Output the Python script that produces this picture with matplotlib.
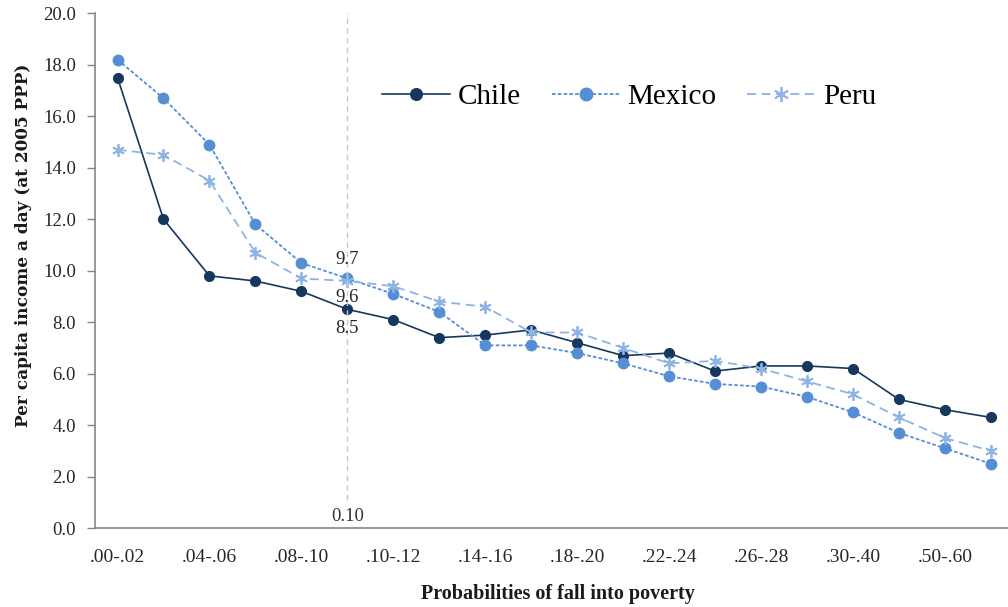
import matplotlib
matplotlib.use("Agg")
import matplotlib.pyplot as plt

# probability-of-falling-into-poverty bins (only every other one is labelled)
categories = [".00-.02", ".02-.04", ".04-.06", ".06-.08", ".08-.10", ".10",
              ".10-.12", ".12-.14", ".14-.16", ".16-.18", ".18-.20", ".20-.22",
              ".22-.24", ".24-.26", ".26-.28", ".28-.30", ".30-.40", ".40-.50",
              ".50-.60", ".60-.70"]

chile = [17.5, 12.0, 9.8, 9.6, 9.2, 8.5, 8.1, 7.4, 7.5, 7.7, 7.2, 6.7,
         6.8, 6.1, 6.3, 6.3, 6.2, 5.0, 4.6, 4.3]
mexico = [18.2, 16.7, 14.9, 11.8, 10.3, 9.7, 9.1, 8.4, 7.1, 7.1, 6.8, 6.4,
          5.9, 5.6, 5.5, 5.1, 4.5, 3.7, 3.1, 2.5]
peru = [14.7, 14.5, 13.5, 10.7, 9.7, 9.6, 9.4, 8.8, 8.6, 7.6, 7.6, 7.0,
        6.4, 6.5, 6.2, 5.7, 5.2, 4.3, 3.5, 3.0]

cutoff_idx = 5
cutoff_label = "0.10"

C_CHILE = "#17375E"
C_MEX = "#558ED5"
C_PERU = "#8EB4E3"
TXT = "#262626"

plt.rcParams["font.family"] = ["Liberation Serif", "DejaVu Serif"]

fig = plt.figure(figsize=(10.08, 6.07), dpi=100)
ax = fig.add_axes([0.0938, 0.130, 0.912, 0.848])

x = list(range(len(categories)))
ax.plot(x, chile, color=C_CHILE, lw=1.2, marker="o", ms=7, label="Chile")
ax.plot(x, mexico, color=C_MEX, lw=1.3, ls=(0, (2, 1.2)), marker="o", ms=7.5,
        label="Mexico")
ax.plot(x, peru, color=C_PERU, lw=1.3, ls=(0, (5, 3)), marker=(6, 2, 0), ms=9,
        mew=1.3, label="Peru")

# cut-off line at 0.10 with the three values read there
ax.plot([cutoff_idx, cutoff_idx], [1.1, 20], color="#C8C8C8", lw=1, ls=(0, (4, 3)))
ax.text(cutoff_idx, 0.45, cutoff_label, ha="center", va="center", fontsize=13.5,
        color="#333333")
ax.text(cutoff_idx, mexico[cutoff_idx] + 0.75, f"{mexico[cutoff_idx]:.1f}",
        ha="center", va="center", fontsize=13.5, color=TXT)
ax.text(cutoff_idx, (peru[cutoff_idx] + chile[cutoff_idx]) / 2 - 0.1,
        f"{peru[cutoff_idx]:.1f}", ha="center", va="center", fontsize=13.5,
        color=TXT)
ax.text(cutoff_idx, chile[cutoff_idx] - 0.75, f"{chile[cutoff_idx]:.1f}",
        ha="center", va="center", fontsize=13.5, color=TXT)

ax.set_xlim(-0.5, len(categories) - 0.5)
ax.set_ylim(0, 20)
ax.set_yticks([i * 2.0 for i in range(11)])
ax.set_yticklabels([f"{i * 2.0:.1f}" for i in range(11)], fontsize=13.5, color=TXT)
ax.set_xticks(x[::2])
ax.set_xticklabels(categories[::2], fontsize=14, color=TXT)
ax.tick_params(axis="x", length=0, pad=15)
ax.tick_params(axis="y", length=5.5, width=1, color="#868686", direction="out", pad=8)

for side in ("top", "right"):
    ax.spines[side].set_visible(False)
for side in ("left", "bottom"):
    ax.spines[side].set_color("#868686")
    ax.spines[side].set_linewidth(1.2)

fig.text(24 / 1008, 1 - 245 / 607, "Per capita income a day (at 2005 PPP)",
         rotation=90, ha="center", va="center", fontsize=12.2, fontweight="bold",
         family=["DejaVu Serif"], color="#1a1a1a")
fig.text(558 / 1008, 1 - 594 / 607, "Probabilities of fall into poverty",
         ha="center", va="center", fontsize=14.5, fontweight="bold", color="#1a1a1a")

ax.legend(loc="center left", bbox_to_anchor=(0.3123, 0.837), ncol=3, frameon=False,
          fontsize=21, handlelength=2.33, columnspacing=1.06, handletextpad=0.27,
          borderpad=0, borderaxespad=0, markerscale=1.2)

fig.savefig("out.png", dpi=100)
